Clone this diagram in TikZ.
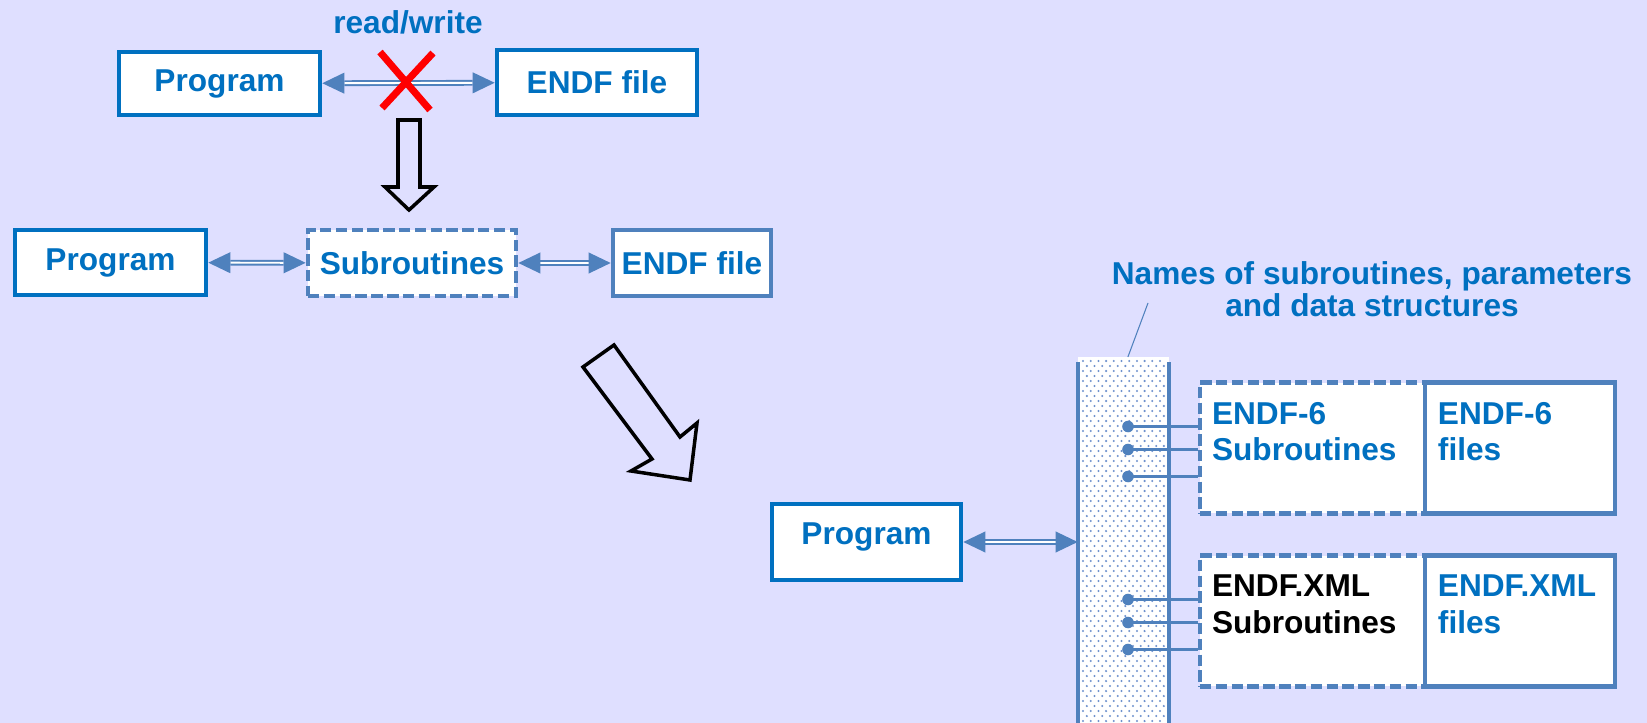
\documentclass[tikz,border=0pt]{standalone}
\usepackage{fontspec}
\setmainfont{Liberation Sans}
\usepackage{tikz}
\usetikzlibrary{positioning,arrows.meta}
\definecolor{bgcol}{RGB}{223,223,255}
\definecolor{textblue}{RGB}{0,112,192}
\definecolor{steelblue}{RGB}{79,129,189}
\definecolor{dotblue}{RGB}{110,145,205}

\begin{document}
\begin{tikzpicture}[
    x=0.02cm, y=-0.02cm,
    every node/.style={font=\fontsize{18pt}{21pt}\selectfont\bfseries, text=textblue},
    block/.style={rectangle, draw=textblue, fill=white, line width=2.7pt, inner sep=0pt},
    subbox/.style={block, draw=steelblue, dash pattern=on 6.5pt off 2.5pt},
    filebox/.style={block, draw=steelblue},
    boxtext/.style={inner sep=0pt, align=left},
    link/.style={draw=steelblue, line width=1.1pt, double=white, double distance=1.1pt,
        {Triangle[length=12.5pt,width=12pt,line width=0pt]}-{Triangle[length=12.5pt,width=12pt,line width=0pt]}},
    hollow/.style={draw=black, line width=2pt, line join=miter},
    pin/.style={draw=steelblue, line width=1.4pt}
]
    \fill[bgcol] (0,0) rectangle (1647,723);
    \useasboundingbox (0,0) rectangle (1647,723);

    % Nodes
    \node[block, minimum width=4.02cm, minimum height=1.26cm] (prgA) at (219.5,83.5) {Program};
    \node[block, minimum width=4cm, minimum height=1.3cm] (fileA) at (597,82.5) {ENDF file};
    \node[anchor=base] (rw) at (408,34) {read/write};

    \node[block, minimum width=3.82cm, minimum height=1.3cm] (prgB) at (110.5,262.5) {Program};
    \node[subbox, minimum width=4.16cm, minimum height=1.32cm] (subB) at (412,263) {Subroutines};
    \node[filebox, minimum width=3.16cm, minimum height=1.32cm] (fileB) at (692,263) {ENDF file};

    \node[block, minimum width=3.78cm, text height=0.8cm, text depth=0.72cm, anchor=base] (prgC) at (866.5,544) {Program};

    % column of names
    \node[fill=white, inner sep=0pt, minimum width=1.82cm, minimum height=7.32cm, anchor=north] (colm) at (1123.5,357) {};
    \foreach \r in {0,...,72} {
        \foreach \c in {0,...,10} {
            \fill[dotblue] ({1083+\c*7.7+mod(\r,2)*3.85},{361+\r*5}) circle (0.65pt);
        }
    }
    \draw[steelblue, line width=2.4pt] ([yshift=-3pt]colm.north west) -- (colm.south west);
    \draw[steelblue, line width=2.4pt] ([yshift=-3pt]colm.north east) -- (colm.south east);

    \node[subbox, minimum width=4.5cm, minimum height=2.62cm] (e6sub) at (1312.5,448) {};
    \node[filebox, minimum width=3.8cm, minimum height=2.62cm, right=-2.7pt of e6sub] (e6file) {};
    \node[subbox, minimum width=4.5cm, minimum height=2.62cm] (xmlsub) at (1312.5,621) {};
    \node[filebox, minimum width=3.8cm, minimum height=2.62cm, right=-2.7pt of xmlsub] (xmlfile) {};

    \node[boxtext, below right=0.43cm and 0.28cm of e6sub.north west] (e6subtxt) {ENDF-6\\Subroutines};
    \node[boxtext, below right=0.43cm and 0.3cm of e6file.north west] (e6filetxt) {ENDF-6\\files};
    \node[boxtext, text=black, below right=0.43cm and 0.28cm of xmlsub.north west] (xmlsubtxt) {ENDF.XML\\Subroutines};
    \node[boxtext, below right=0.43cm and 0.3cm of xmlfile.north west] (xmlfiletxt) {ENDF.XML\\files};

    % Arrows
    \draw[link] (prgA) -- (fileA);
    \draw[link] (prgB) -- (subB);
    \draw[link] (subB) -- (fileB);
    \draw[link] (prgC.east) -- (prgC.east -| colm.west);

    \draw[red, line width=4pt] (380,52) -- (430,110) (433,53) -- (382,108);

    \draw[hollow] (398,120) -- (420,120) -- (420,187) -- (434,187) -- (409,210) -- (385,187) -- (398,187) -- cycle;
    \draw[hollow] (583,367) -- (614,345) -- (680,437) -- (697,423) -- (690,480) -- (631,471) -- (652,459) -- cycle;

    \foreach \dy [count=\i] in {44,67,94} {
        \coordinate (pa\i) at (1128,{382.5+\dy});
        \draw[pin] (pa\i) -- (pa\i -| e6sub.west);
        \fill[steelblue] (pa\i) circle (3.3pt);
        \coordinate (pb\i) at (1128,{555.5+\dy});
        \draw[pin] (pb\i) -- (pb\i -| xmlsub.west);
        \fill[steelblue] (pb\i) circle (3.3pt);
    }

    % Labels
    \node[align=center, font=\fontsize{18pt}{18.3pt}\selectfont\bfseries] (names) at (1372,289) {Names of subroutines, parameters\\and data structures};
    \coordinate (lead) at (1148,303);
    \draw[steelblue, line width=0.6pt] ([xshift=2.5pt]colm.north) -- (lead);
\end{tikzpicture}
\end{document}
